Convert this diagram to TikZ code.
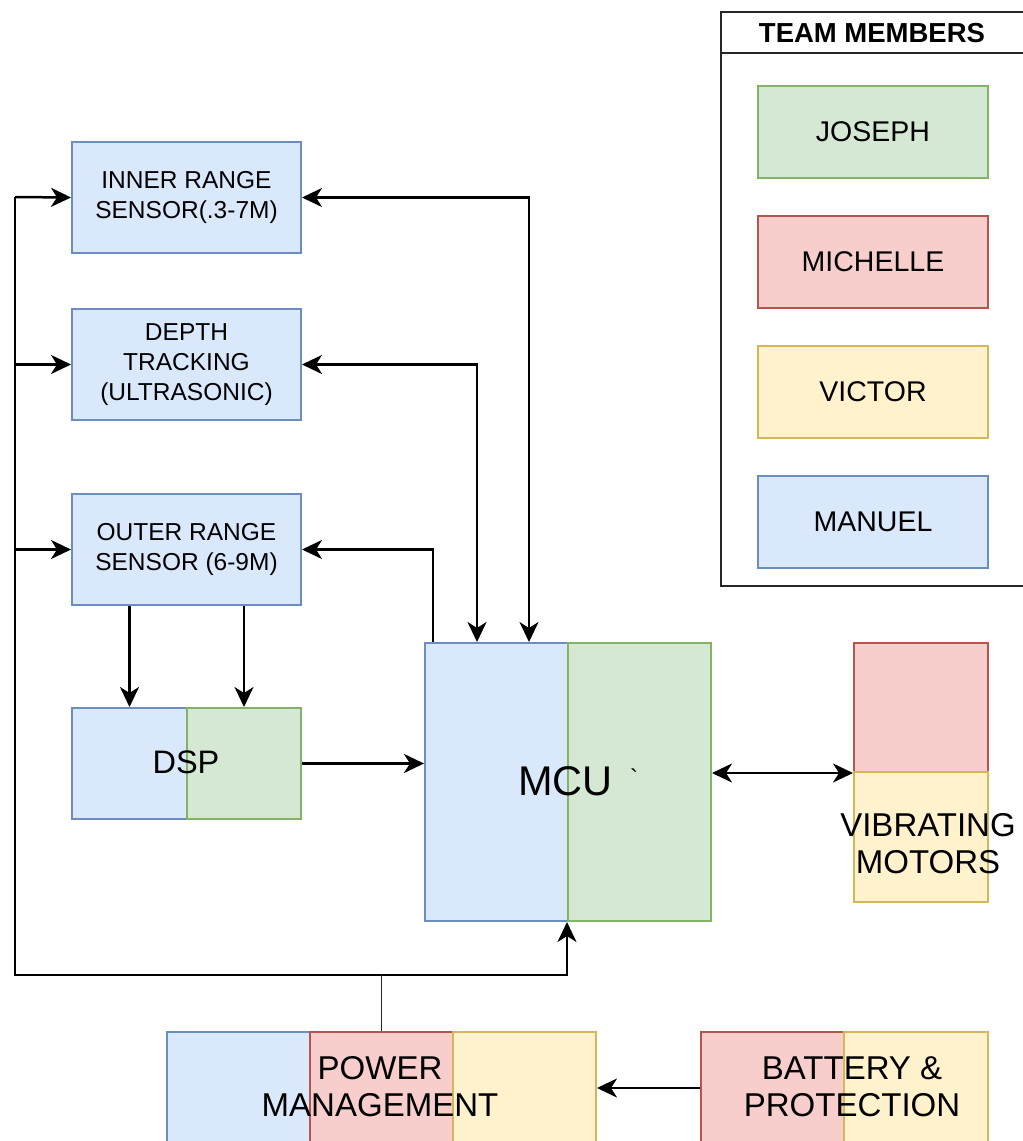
\documentclass[tikz,border=0pt]{standalone}
\usepackage{fontspec}
\setmainfont{Liberation Sans}
\usetikzlibrary{arrows.meta}
\definecolor{manuelfill}{HTML}{DAE8FC}
\definecolor{manueldraw}{HTML}{6C8EBF}
\definecolor{josephfill}{HTML}{D5E8D4}
\definecolor{josephdraw}{HTML}{82B366}
\definecolor{michellefill}{HTML}{F8CECC}
\definecolor{michelledraw}{HTML}{B85450}
\definecolor{victorfill}{HTML}{FFF2CC}
\definecolor{victordraw}{HTML}{D6B656}
\tikzset{
  block part/.style={rectangle,line width=2pt,inner sep=0pt,anchor=north west},
  part manuel/.style={block part,draw=manueldraw,fill=manuelfill},
  part joseph/.style={block part,draw=josephdraw,fill=josephfill},
  part michelle/.style={block part,draw=michelledraw,fill=michellefill},
  part victor/.style={block part,draw=victordraw,fill=victorfill},
  block label/.style={align=center,font=\fontsize{24.5}{30}\selectfont},
  big label/.style={align=center,font=\fontsize{33}{37}\selectfont},
  member label/.style={font=\fontsize{28.5}{32}\selectfont},
  link/.style={line width=2.5pt,draw=black},
  >={Stealth[length=20pt,width=19pt,inset=6pt]}
}

\begin{document}
\begin{tikzpicture}[x=1pt,y=-1pt]
  \path[use as bounding box] (0,0) rectangle (1023,1141);
  \clip (0,0) rectangle (1023,1141);
  % legend
  \node[block part,draw=black!85,minimum width=320pt,minimum height=574pt] (legend) at (720,11) {};
  \draw[line width=2pt,black!85] ([yshift=-42pt]legend.north west) -- ([yshift=-42pt]legend.north east);
  \node[font=\fontsize{27.5}{30}\selectfont\bfseries] (title) at (872,33) {TEAM MEMBERS};
  \foreach \who/\name/\y in {joseph/JOSEPH/85,michelle/MICHELLE/215,victor/VICTOR/345,manuel/MANUEL/475}{
    \node[part \who,member label,minimum width=230pt,minimum height=92pt] (\who) at (757,\y) {\name};
  }
  % sensors
  \node[part manuel,block label,minimum width=229pt,minimum height=111pt] (inner) at (71,141) {INNER RANGE\\SENSOR(.3-7M)};
  \node[part manuel,block label,minimum width=229pt,minimum height=111pt] (depth) at (71,308) {DEPTH\\TRACKING\\(ULTRASONIC)};
  \node[part manuel,block label,minimum width=229pt,minimum height=111pt] (outer) at (71,493) {OUTER RANGE\\SENSOR (6-9M)};
  % dsp
  \node[part manuel,minimum width=115pt,minimum height=111pt] (dspl) at (71,707) {};
  \node[part joseph,minimum width=114pt,minimum height=111pt] (dspr) at (186,707) {};
  \node[font=\fontsize{32.5}{36}\selectfont] (dsp) at (186,762) {DSP};
  % mcu
  \node[part manuel,minimum width=143pt,minimum height=278pt] (mcul) at (424,642) {};
  \node[part joseph,minimum width=143pt,minimum height=278pt] (mcur) at (567,642) {};
  \node[font=\fontsize{41.5}{45}\selectfont] (mcu) at (565.5,781) {MCU};
  \node[font=\fontsize{24}{28}\selectfont] (tick) at (634,778) {\textasciigrave};
  % vibrating motors
  \node[part michelle,minimum width=134pt,minimum height=129pt] (vibt) at (853,642) {};
  \node[part victor,minimum width=134pt,minimum height=130pt] (vibb) at (853,771) {};
  \node[big label] (vib) at (928,844) {VIBRATING\\MOTORS};
  % power and battery
  \node[part manuel,minimum width=143pt,minimum height=112pt] (pwra) at (166,1031) {};
  \node[part michelle,minimum width=143pt,minimum height=112pt] (pwrb) at (309,1031) {};
  \node[part victor,minimum width=143pt,minimum height=112pt] (pwrc) at (452,1031) {};
  \node[big label] (pwr) at (380,1087) {POWER\\MANAGEMENT};
  \node[part michelle,minimum width=143pt,minimum height=112pt] (batl) at (700,1031) {};
  \node[part victor,minimum width=144pt,minimum height=112pt] (batr) at (843,1031) {};
  \node[big label] (bat) at (852,1087) {BATTERY \&\\PROTECTION};
  % connectors
  \coordinate (bustop) at (15,197);
  \coordinate (busbot) at (15,975);
  \draw[link,->] (bustop) -- (inner.west);
  \draw[link,->] (bustop) -- (busbot) -| (mcur.south west);
  \draw[link,->] (depth.west -| bustop) -- (depth.west);
  \draw[link,->] (outer.west -| bustop) -- (outer.west);
  \draw[line width=1.5pt,black!85] (pwrb.north) -- (pwrb.north |- busbot);
  \draw[link,<->] (inner.east) -| ([xshift=105pt]mcul.north west);
  \draw[link,<->] (depth.east) -| ([xshift=53pt]mcul.north west);
  \draw[link,->] ([xshift=9pt]mcul.north west) |- (outer.east);
  \draw[link,->] (outer.south -| dspl.north) -- (dspl.north);
  \draw[link,->] (outer.south -| dspr.north) -- (dspr.north);
  \draw[link,->] (dspr.east) -- (dspr.east -| mcul.west);
  \draw[link,<->] (mcur.east |- vibt.south west) -- (vibt.south west);
  \draw[link,->] (batl.west) -- (batl.west -| pwrc.east);
\end{tikzpicture}
\end{document}
